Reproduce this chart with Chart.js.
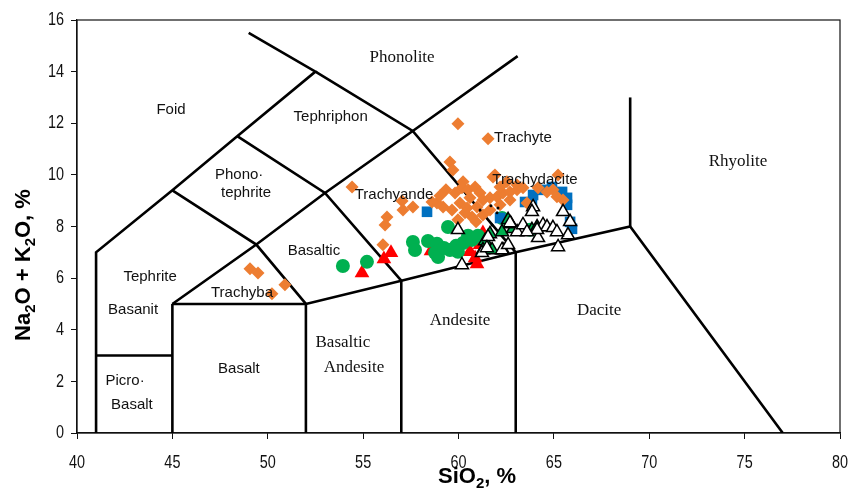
<!DOCTYPE html>
<html>
<head>
<meta charset="utf-8">
<script src="https://cdn.jsdelivr.net/npm/chart.js@4.4.1/dist/chart.umd.min.js"></script>
<style>
  html, body { margin: 0; padding: 0; background: #fff; }
  #wrap { width: 853px; height: 488px; position: relative; }
</style>
</head>
<body>
<div id="wrap"><canvas id="tas"></canvas></div>
<script>
// Total alkali vs silica (TAS) classification, wt %
const xTicks = [40, 45, 50, 55, 60, 65, 70, 75, 80];
const yTicks = [0, 2, 4, 6, 8, 10, 12, 14, 16];

// Sample suites: SiO2 and Na2O + K2O
const orangeSiO2 = [49.07,49.49,50.90,50.22,54.42,57.04,56.25,56.15,56.04,59.97,61.55,59.55,59.71,61.91,60.24,57.09,60.18,59.82,60.50,60.87,61.13,60.60,60.08,60.45,60.97,61.28,61.65,62.02,62.33,62.70,63.07,61.81,62.18,62.54,63.07,63.38,62.70,62.18,61.65,61.28,60.71,60.34,59.66,59.19,58.87,58.61,57.61,64.17,64.64,64.95,65.16,65.48,63.59,59.34,59.03,59.97,60.92,65.22];
const orangeAlk  = [6.36,6.20,5.74,5.39,9.53,8.99,8.37,8.06,7.29,11.98,11.40,10.50,10.19,10.00,9.73,8.64,9.50,9.30,9.42,9.53,9.30,9.11,8.91,8.72,8.76,9.03,9.11,9.15,9.30,9.34,9.42,9.92,9.53,9.73,9.61,9.50,9.03,8.84,8.64,8.45,8.37,8.53,8.64,8.76,8.91,8.95,8.76,9.50,9.34,9.42,9.15,9.03,8.91,9.42,9.19,8.26,8.18,10.00];

const blueSiO2 = [58.35,62.18,63.49,63.91,64.43,64.90,65.43,65.69,65.69,65.85,65.95,63.85];
const blueAlk  = [8.57,8.33,8.95,9.22,9.42,9.53,9.34,9.11,8.84,8.18,7.91,8.91];

const greenSiO2 = [53.94,55.20,57.61,57.72,58.40,58.87,58.77,58.93,59.45,59.55,59.87,60.24,60.50,60.71,59.97,59.24,62.28,63.75,61.02];
const greenAlk  = [6.47,6.63,7.40,7.09,7.44,7.33,6.98,6.82,7.98,7.09,7.25,7.36,7.64,7.48,7.02,7.17,8.33,7.87,7.64];

const redSiO2 = [54.94,56.09,56.46,58.56,60.87,61.13,61.28,60.97,60.60];
const redAlk  = [6.20,6.74,6.98,7.05,6.78,7.29,7.75,6.55,7.02];

const greenTriSiO2 = [62.60,62.28,61.65,61.39,61.28,61.76,62.33,62.86,63.85,64.12,62.75];
const greenTriAlk  = [8.26,7.79,7.71,7.44,7.09,7.09,7.09,7.91,7.87,7.98,8.10];

const openTriSiO2 = [59.97,60.18,63.91,65.48,65.85,65.74,65.22,64.17,64.43,64.64,64.95,64.12,63.07,62.70,63.38,63.59,61.55,61.23,61.49,62.28,62.60,63.85,65.16];
const openTriAlk  = [7.87,6.51,8.76,8.57,8.18,7.67,7.21,7.56,8.06,7.98,7.95,7.87,7.79,8.14,8.06,7.79,7.60,6.98,7.17,7.09,7.29,8.57,7.79];

const dotSiO2 = [61.13,61.70,62.07,61.76,62.02];
const dotAlk  = [8.64,8.80,8.72,8.06,8.53];

// Field boundaries (Le Bas et al. 1986), as polylines of [SiO2, alkali]
const boundaries = [
  [[41,0],[41,7],[45,9.4],[48.4,11.5],[52.5,14],[49,15.5]],
  [[41,3],[45,3]],
  [[45,0],[45,5]],
  [[52,0],[52,5]],
  [[57,0],[57,5.9]],
  [[63,0],[63,7]],
  [[45,5],[52,5],[57,5.9],[63,7],[69,8],[77,0]],
  [[69,8],[69,13]],
  [[45,5],[49.4,7.3],[53,9.3],[57.6,11.7],[63.1,14.6]],
  [[45,9.4],[49.4,7.3],[52,5]],
  [[48.4,11.5],[53,9.3],[57,5.9]],
  [[52.5,14],[57.6,11.7],[63,7]]
];

// Field names: text, SiO2, alkali, style
const fieldNames = [
  ['Phonolite', 57.04, 14.53, 'serif'],
  ['Foid', 44.93, 12.52, 'sans'],
  ['Tephriphon', 53.3, 12.25, 'sans'],
  ['Phono\u00b7', 48.5, 10.0, 'sans'],
  ['tephrite', 48.86, 9.30, 'sans'],
  ['Trachyande', 56.62, 9.22, 'sans'],
  ['Trachyte', 63.38, 11.43, 'sans'],
  ['Trachydacite', 64.01, 9.81, 'sans'],
  ['Rhyolite', 74.65, 10.50, 'serif'],
  ['Basaltic', 52.42, 7.05, 'sans'],
  ['Tephrite', 43.83, 6.05, 'sans'],
  ['Basanit', 42.94, 4.77, 'sans'],
  ['Trachyba', 48.65, 5.43, 'sans'],
  ['Basalt', 48.49, 2.48, 'sans'],
  ['Picro\u00b7', 42.52, 2.02, 'sans'],
  ['Basalt', 42.88, 1.09, 'sans'],
  ['Basaltic', 53.94, 3.49, 'serif'],
  ['Andesite', 54.52, 2.52, 'serif'],
  ['Andesite', 60.08, 4.34, 'serif'],
  ['Dacite', 67.37, 4.73, 'serif']
];

const pts = (xs, ys) => xs.map((x, i) => ({ x, y: ys[i] }));

const boundarySets = boundaries.map(line => ({
  data: line.map(([x, y]) => ({ x, y })),
  showLine: true,
  borderColor: '#000',
  borderWidth: 2.6,
  pointRadius: 0,
  fill: false,
  tension: 0,
  order: 100
}));

const sampleSets = [
  { data: pts(redSiO2, redAlk), pointStyle: 'triangle', pointRadius: 8.5,
    backgroundColor: '#ff0000', borderColor: '#ff0000', borderWidth: 0, order: 60 },
  { data: pts(greenSiO2, greenAlk), pointStyle: 'circle', pointRadius: 7,
    backgroundColor: '#00b050', borderColor: '#00b050', borderWidth: 0, order: 50 },
  { data: pts(blueSiO2, blueAlk), pointStyle: 'rect', pointRadius: 7.5,
    backgroundColor: '#0070c0', borderColor: '#0070c0', borderWidth: 0, order: 40 },
  { data: pts(orangeSiO2, orangeAlk), pointStyle: 'rectRot', pointRadius: 6.5,
    backgroundColor: '#ed7d31', borderColor: '#ed7d31', borderWidth: 0, order: 30 },
  { data: pts(dotSiO2, dotAlk), pointStyle: 'circle', pointRadius: 1.5,
    backgroundColor: '#000', borderColor: '#000', borderWidth: 0, order: 25 },
  { data: pts(greenTriSiO2, greenTriAlk), pointStyle: 'triangle', pointRadius: 7.5,
    backgroundColor: '#00b050', borderColor: '#000', borderWidth: 1.5, order: 20 },
  { data: pts(openTriSiO2, openTriAlk), pointStyle: 'triangle', pointRadius: 7.5,
    backgroundColor: '#ffffff', borderColor: '#000', borderWidth: 1.5, order: 10 }
];

// Frame, condensed tick numbers, field names and axis titles with subscripts
const decorations = {
  id: 'decorations',
  beforeDatasetsDraw(chart) {
    const { ctx, chartArea: a } = chart;
    ctx.save();
    ctx.strokeStyle = '#111';
    ctx.lineWidth = 1.2;
    ctx.strokeRect(a.left, a.top, a.right - a.left, a.bottom - a.top);
    ctx.restore();
  },
  afterDraw(chart) {
    const { ctx, scales } = chart;
    ctx.save();

    // tick numbers in a narrow face
    ctx.fillStyle = '#111';
    ctx.font = '19px "Liberation Sans", Arial, sans-serif';
    ctx.textBaseline = 'middle';
    const squeeze = 0.76;
    scales.x.ticks.forEach(t => {
      const px = scales.x.getPixelForValue(t.value);
      const s = String(t.value);
      const w = ctx.measureText(s).width * squeeze;
      ctx.save();
      ctx.translate(px - w / 2, 463);
      ctx.scale(squeeze, 1);
      ctx.textAlign = 'left';
      ctx.fillText(s, 0, 0);
      ctx.restore();
    });
    scales.y.ticks.forEach(t => {
      const py = scales.y.getPixelForValue(t.value);
      const s = String(t.value);
      ctx.save();
      ctx.translate(64, py);
      ctx.scale(squeeze, 1);
      ctx.textAlign = 'right';
      ctx.fillText(s, 0, 0);
      ctx.restore();
    });

    ctx.textAlign = 'center';
    ctx.textBaseline = 'middle';
    fieldNames.forEach(([t, x, y, style]) => {
      ctx.font = style === 'serif'
        ? '17px "Liberation Serif", "Times New Roman", serif'
        : '15px "Liberation Sans", Arial, sans-serif';
      ctx.fillText(t, scales.x.getPixelForValue(x), scales.y.getPixelForValue(y));
    });

    const drawParts = (parts, cx, cy) => {
      const big = 'bold 22px "Liberation Sans", Arial, sans-serif';
      const small = 'bold 15px "Liberation Sans", Arial, sans-serif';
      let w = 0;
      parts.forEach(([t, sub]) => { ctx.font = sub ? small : big; w += ctx.measureText(t).width; });
      let x = cx - w / 2;
      ctx.textAlign = 'left';
      ctx.textBaseline = 'alphabetic';
      parts.forEach(([t, sub]) => {
        ctx.font = sub ? small : big;
        ctx.fillText(t, x, cy + 8 + (sub ? 5 : 0));
        x += ctx.measureText(t).width;
      });
    };
    ctx.fillStyle = '#000';
    drawParts([['SiO', 0], ['2', 1], [', %', 0]], 477, 475);
    ctx.translate(22, 265);
    ctx.rotate(-Math.PI / 2);
    drawParts([['Na', 0], ['2', 1], ['O + K', 0], ['2', 1], ['O, %', 0]], 0, 0);
    ctx.restore();
  }
};

new Chart(document.getElementById('tas'), {
  type: 'scatter',
  data: { datasets: [...boundarySets, ...sampleSets] },
  options: {
    responsive: true,
    maintainAspectRatio: false,
    animation: false,
    layout: { padding: { top: 20, right: 13, left: 0, bottom: 0 } },
    plugins: { legend: { display: false }, tooltip: { enabled: false } },
    scales: {
      x: {
        type: 'linear', min: 40, max: 80,
        afterBuildTicks: s => { s.ticks = xTicks.map(v => ({ value: v })); },
        afterFit: s => { s.height = 55; },
        ticks: { display: false },
        grid: { display: true, drawOnChartArea: false, drawTicks: true, tickLength: 6, color: '#111' },
        border: { display: true, color: '#111', width: 1.2 }
      },
      y: {
        type: 'linear', min: 0, max: 16,
        afterBuildTicks: s => { s.ticks = yTicks.map(v => ({ value: v })); },
        afterFit: s => { s.width = 77; },
        ticks: { display: false },
        grid: { display: true, drawOnChartArea: false, drawTicks: true, tickLength: 6, color: '#111' },
        border: { display: true, color: '#111', width: 1.2 }
      }
    }
  },
  plugins: [decorations]
});
</script>
</body>
</html>
